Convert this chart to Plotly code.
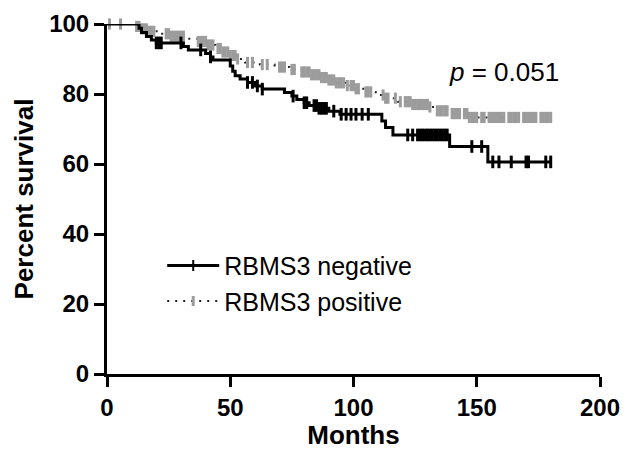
import numpy as np
import plotly.graph_objects as go

# Kaplan-Meier step data (months, percent survival)
neg_t = [0, 13, 14, 16, 18, 20, 31, 33, 40, 42, 43, 50, 51, 52, 54, 57, 60, 63, 72, 75, 77, 80, 82, 86, 90, 94.5,
         111.5, 113, 116, 139, 154.5, 180]
neg_s = [100, 98.8, 97.6, 96.4, 95.4, 94.6, 93.6, 92.6, 91.6, 90.6, 89.7, 88.0, 86.5, 85.2, 84.3, 83.3, 82.3, 81.4,
         80.4, 79.4, 78.4, 77.5, 76.7, 75.9, 75.1, 74.2, 72.3, 70.4, 68.3, 65.0, 60.6, 60.6]

pos_t = [0, 11, 14, 17, 21, 26, 32, 37, 41, 44, 47, 50, 53, 56, 62, 68, 74, 79, 83, 87, 90, 93, 97, 101, 105, 109,
         113, 118, 124, 131, 134, 140, 147, 180]
pos_s = [100, 99.3, 98.6, 97.9, 97.2, 96.5, 95.8, 95.0, 94.0, 93.0, 92.0, 91.0, 90.0, 89.0, 88.4, 87.7, 87.0, 86.3,
         85.5, 84.7, 84.0, 83.2, 82.4, 81.5, 80.6, 79.7, 78.8, 77.8, 77.0, 76.3, 75.2, 74.4, 73.3, 73.3]

# Censoring times (months)
neg_censor = [20, 21, 22, 30, 38, 42, 57, 59, 61, 63, 75.5, 80, 81, 84, 85, 86, 87, 88, 89, 92, 95, 97, 99, 101,
              103.5, 106, 122, 124, 126, 127, 128, 129, 130, 131, 132, 133, 134, 135, 136, 137, 138, 148, 152,
              156.5, 159, 164, 170, 171, 178, 180]
pos_censor = [1, 5.5, 12, 13, 14, 15, 16, 17, 18, 19, 24, 25, 26, 27, 28, 29, 30, 31, 37, 38, 39, 40, 41, 42, 43,
              45, 46, 47, 48, 49, 50, 51, 52, 53, 57, 59, 63, 65, 70, 71, 72, 75, 76, 79, 80, 81, 82, 83, 84, 85,
              86, 87, 88, 89, 90, 91, 92, 93, 94, 95, 96, 97.5, 99, 100, 101, 102, 105, 106, 107, 112, 113, 114,
              117, 119, 121, 122, 123, 124, 125, 126, 127, 128, 129, 130, 131, 134, 135, 136, 137, 138, 140, 141,
              142, 143, 145, 146, 147, 148, 149, 150, 152, 153, 155, 156, 157, 158, 159, 160, 161, 163, 164, 165,
              166, 167, 169, 170, 171, 172, 173, 174, 176, 177, 178, 179, 180]

series_names = ["RBMS3 negative", "RBMS3 positive"]
p_text = "<i>p</i> = 0.051"


def km_at(ts, ss, t):
    idx = np.searchsorted(np.array(ts), t, side="right") - 1
    return np.array(ss)[idx]


FONT = "Liberation Sans, Arial, sans-serif"
GRAY = "#9c9c9c"

fig = go.Figure()

# positive group: dotted line + gray censor ticks
fig.add_trace(go.Scatter(x=pos_t, y=pos_s, mode="lines", line=dict(shape="hv", color="#222", width=2, dash="2px,6px"),
                         showlegend=False, cliponaxis=False, hoverinfo="skip"))
fig.add_trace(go.Scatter(x=pos_censor, y=km_at(pos_t, pos_s, pos_censor), mode="markers",
                         marker=dict(symbol="line-ns", size=8, line=dict(color=GRAY, width=3)),
                         showlegend=False, cliponaxis=False))

# negative group: solid black line + black censor ticks
fig.add_trace(go.Scatter(x=neg_t, y=neg_s, mode="lines", line=dict(shape="hv", color="black", width=3),
                         showlegend=False, cliponaxis=False, hoverinfo="skip"))
fig.add_trace(go.Scatter(x=neg_censor, y=km_at(neg_t, neg_s, neg_censor), mode="markers",
                         marker=dict(symbol="line-ns", size=9, line=dict(color="black", width=3)),
                         showlegend=False, cliponaxis=False))

# legend entries
fig.add_trace(go.Scatter(x=[None], y=[None], mode="lines+markers", name=series_names[0],
                         line=dict(color="black", width=3),
                         marker=dict(symbol="line-ns", size=8, line=dict(color="black", width=2))))
fig.add_trace(go.Scatter(x=[None], y=[None], mode="lines+markers", name=series_names[1],
                         line=dict(color="#222", width=2, dash="2px,6px"),
                         marker=dict(symbol="line-ns", size=7, line=dict(color=GRAY, width=3))))

fig.add_annotation(x=161, y=86.3, text=p_text, showarrow=False, xref="x", yref="y",
                   font=dict(family=FONT, size=26, color="black"))

axis_common = dict(showgrid=False, zeroline=False, showline=True, linewidth=3, linecolor="black",
                   ticks="outside", ticklen=10, tickwidth=3, tickcolor="black", automargin=False,
                   tickfont=dict(family=FONT, size=24, color="black", weight="bold"))

fig.update_layout(
    width=634, height=450,
    margin=dict(l=107, r=34, t=24, b=76),
    paper_bgcolor="white", plot_bgcolor="white",
    xaxis=dict(range=[0, 200], tick0=0, dtick=50,
               title=dict(text="Months", font=dict(family=FONT, size=26, color="black", weight="bold"), standoff=13),
               **axis_common),
    yaxis=dict(range=[0, 100], tick0=0, dtick=20,
               title=dict(text="Percent survival", font=dict(family=FONT, size=26, color="black", weight="bold"),
                          standoff=9),
               **axis_common),
    legend=dict(x=0.112, y=0.375, xanchor="left", yanchor="top", bgcolor="rgba(0,0,0,0)",
                font=dict(family=FONT, size=25, color="black"), itemwidth=52, tracegroupgap=0),
    showlegend=True,
)

fig.write_html("out.html")
